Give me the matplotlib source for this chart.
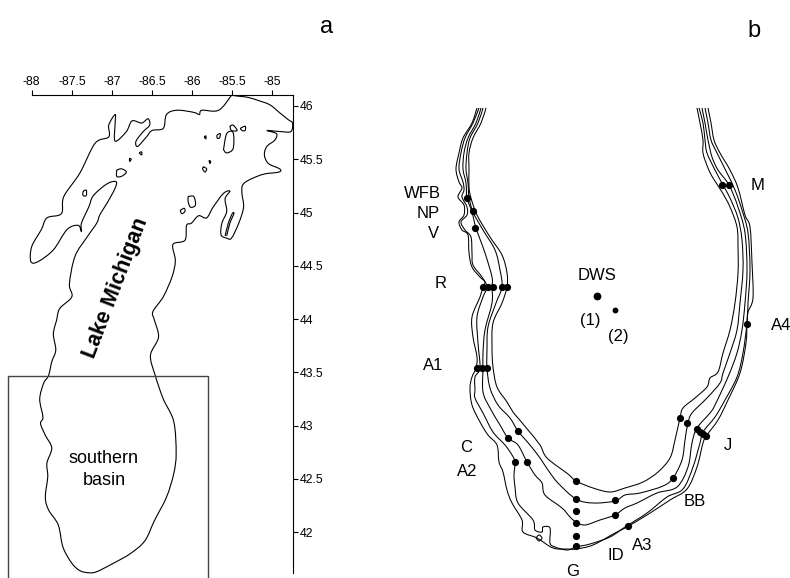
import matplotlib
matplotlib.use('Agg')
import matplotlib.pyplot as plt
from matplotlib.patches import Rectangle, PathPatch
from matplotlib.path import Path

plt.rcParams['font.family'] = ['Liberation Sans', 'DejaVu Sans']

LON_TICKS = [-88, -87.5, -87, -86.5, -86, -85.5, -85]
LON_LABELS = ['-88', '-87.5', '-87', '-86.5', '-86', '-85.5', '-85']
LAT_TICKS = [46, 45.5, 45, 44.5, 44, 43.5, 43, 42.5, 42]
LAT_LABELS = ['46', '45.5', '45', '44.5', '44', '43.5', '43', '42.5', '42']

# lake shoreline, (lon, lat), clockwise from the top
SHORE = [
	(-85.51, 46.10), (-85.40, 46.09), (-85.30, 46.08), (-85.17, 46.05), (-85.03, 46.01),
	(-84.90, 45.93), (-84.80, 45.87), (-84.75, 45.84), (-84.77, 45.76), (-84.90, 45.76),
	(-85.07, 45.77), (-84.95, 45.74), (-84.97, 45.68), (-85.07, 45.62), (-85.10, 45.54),
	(-85.05, 45.46), (-84.91, 45.41), (-84.92, 45.38), (-85.11, 45.36), (-85.28, 45.31),
	(-85.37, 45.26), (-85.38, 45.18), (-85.36, 45.05), (-85.42, 44.90), (-85.51, 44.76),
	(-85.57, 44.76), (-85.64, 44.79), (-85.63, 44.90), (-85.57, 45.01), (-85.59, 45.13),
	(-85.53, 45.20), (-85.61, 45.18), (-85.74, 45.05), (-85.82, 44.95), (-85.92, 44.97),
	(-86.01, 44.90), (-86.07, 44.88), (-86.09, 44.74), (-86.24, 44.70), (-86.21, 44.55),
	(-86.25, 44.40), (-86.36, 44.21), (-86.49, 44.07), (-86.47, 43.99), (-86.42, 43.83),
	(-86.52, 43.66), (-86.46, 43.47), (-86.36, 43.25), (-86.23, 43.04), (-86.20, 42.74),
	(-86.23, 42.55), (-86.32, 42.33), (-86.47, 42.11), (-86.59, 41.92), (-86.77, 41.80),
	(-86.98, 41.71), (-87.19, 41.63), (-87.29, 41.62), (-87.40, 41.64), (-87.50, 41.71),
	(-87.61, 41.86), (-87.67, 42.07), (-87.79, 42.21), (-87.83, 42.33), (-87.80, 42.52),
	(-87.81, 42.65), (-87.75, 42.79), (-87.83, 42.91), (-87.89, 43.02), (-87.86, 43.08),
	(-87.90, 43.25), (-87.85, 43.40), (-87.79, 43.47), (-87.75, 43.60), (-87.70, 43.71),
	(-87.73, 43.86), (-87.69, 43.99), (-87.65, 44.10), (-87.50, 44.21), (-87.53, 44.33),
	(-87.46, 44.59), (-87.31, 44.77), (-87.19, 44.90), (-87.15, 44.98), (-87.06, 45.09),
	(-86.96, 45.23), (-86.95, 45.29), (-87.06, 45.27), (-87.23, 45.16), (-87.29, 45.05),
	(-87.38, 44.90), (-87.38, 44.82), (-87.42, 44.88), (-87.56, 44.84), (-87.73, 44.65),
	(-87.92, 44.54), (-88.01, 44.54), (-88.00, 44.68), (-87.88, 44.84), (-87.81, 44.95),
	(-87.63, 44.99), (-87.60, 45.15), (-87.40, 45.37), (-87.21, 45.65), (-87.04, 45.71),
	(-87.04, 45.82), (-86.96, 45.92), (-86.96, 45.84), (-86.96, 45.67), (-86.82, 45.76),
	(-86.75, 45.86), (-86.63, 45.84), (-86.55, 45.88), (-86.53, 45.82), (-86.61, 45.76),
	(-86.70, 45.67), (-86.68, 45.62), (-86.57, 45.71), (-86.50, 45.77), (-86.36, 45.79),
	(-86.32, 45.92), (-86.19, 45.96), (-85.98, 45.94), (-85.91, 45.92), (-85.88, 45.96),
	(-85.67, 45.96), (-85.51, 46.10),
]

OLD_MISSION = [(-85.59, 44.78), (-85.55, 44.90), (-85.50, 44.99), (-85.48, 44.99), (-85.53, 44.90), (-85.57, 44.78)]

ISLANDS = [
	[(-85.61, 45.59), (-85.57, 45.74), (-85.49, 45.75), (-85.49, 45.60), (-85.57, 45.56), (-85.61, 45.59)],
	[(-85.53, 45.81), (-85.49, 45.82), (-85.44, 45.77), (-85.51, 45.77), (-85.53, 45.81)],
	[(-85.40, 45.79), (-85.34, 45.81), (-85.34, 45.77), (-85.38, 45.77), (-85.40, 45.79)],
	[(-85.69, 45.73), (-85.65, 45.74), (-85.66, 45.70), (-85.69, 45.70), (-85.69, 45.73)],
	[(-85.85, 45.71), (-85.83, 45.72), (-85.83, 45.69), (-85.85, 45.71)],
	[(-85.86, 45.43), (-85.82, 45.41), (-85.84, 45.38), (-85.87, 45.41), (-85.86, 45.43)],
	[(-85.79, 45.49), (-85.77, 45.48), (-85.78, 45.46), (-85.79, 45.49)],
	[(-86.94, 45.40), (-86.88, 45.41), (-86.82, 45.38), (-86.88, 45.34), (-86.94, 45.34), (-86.94, 45.40)],
	[(-86.78, 45.51), (-86.76, 45.50), (-86.78, 45.48), (-86.78, 45.51)],
	[(-86.66, 45.56), (-86.63, 45.57), (-86.63, 45.54), (-86.66, 45.56)],
	[(-87.36, 45.20), (-87.32, 45.21), (-87.32, 45.16), (-87.36, 45.16), (-87.36, 45.20)],
	[(-86.05, 45.15), (-85.98, 45.15), (-85.96, 45.07), (-86.02, 45.05), (-86.05, 45.10), (-86.05, 45.15)],
	[(-86.15, 45.02), (-86.10, 45.04), (-86.09, 45.01), (-86.13, 44.99), (-86.15, 45.02)],
]

BASIN_LON = [-88.30, -85.805]
BASIN_LAT = [41.5, 43.47]

# panel b is traced in the scan's own units, y grows downwards
CONTOUR_1 = [
	(477, 108), (472, 123), (463, 138), (459, 153), (456, 169), (459, 182), (462, 188), (458, 197),
	(464, 205), (464, 215), (459, 222), (462, 230), (468, 235), (469, 253), (472, 267), (480, 277),
	(485, 282), (483, 287), (480, 297), (472, 317), (473, 337), (477, 357), (476, 368), (472, 377),
	(470, 388), (472, 405), (480, 422), (488, 435), (497, 445), (499, 462), (503, 472), (507, 490),
	(512, 503), (522, 520), (523, 532), (537, 538), (553, 548), (567, 549), (576, 549), (593, 545),
	(615, 533), (625, 528), (647, 515), (670, 500), (687, 489), (697, 467), (703, 443), (707, 435),
	(718, 420), (728, 400), (740, 373), (746, 343), (747, 323), (748, 312), (753, 298), (752, 263),
	(750, 227), (745, 215), (738, 188), (730, 170), (720, 153), (714, 140), (711, 123), (708, 108),
]
CONTOUR_2 = [
	(479, 108), (473, 123), (465, 138), (461, 153), (459, 169), (463, 182), (464, 190), (462, 197),
	(467, 207), (467, 215), (461, 222), (465, 230), (471, 237), (472, 253), (473, 265), (482, 277),
	(487, 287), (483, 297), (477, 317), (478, 343), (480, 368), (475, 377), (475, 390), (475, 398),
	(483, 413), (493, 432), (505, 445), (512, 455), (515, 462), (514, 475), (515, 487), (518, 503),
	(533, 520), (535, 530), (542, 532), (543, 527), (550, 528), (550, 543), (555, 547), (567, 550),
	(576, 547), (590, 544), (610, 537), (625, 527), (647, 513), (667, 497), (683, 489), (693, 467),
	(700, 443), (703, 432), (715, 417), (725, 400), (737, 377), (743, 353), (747, 323), (748, 303),
	(750, 270), (748, 233), (742, 210), (735, 190), (727, 173), (717, 153), (711, 140), (708, 123),
	(705, 108),
]
CONTOUR_3 = [
	(481, 108), (476, 123), (468, 138), (464, 153), (463, 169), (466, 183), (467, 198), (472, 212),
	(476, 228), (485, 253), (492, 277), (492, 287), (492, 303), (485, 330), (483, 353), (483, 368),
	(483, 392), (490, 408), (500, 425), (508, 438), (518, 445), (527, 462), (535, 475), (542, 483),
	(545, 495), (562, 508), (570, 517), (576, 522), (585, 525), (600, 520), (615, 515), (625, 508),
	(637, 503), (657, 493), (677, 487), (688, 467), (692, 443), (697, 428), (710, 413), (715, 405),
	(728, 377), (737, 353), (742, 330), (745, 303), (747, 270), (745, 233), (738, 207), (729, 185),
	(718, 170), (712, 157), (708, 140), (705, 123), (702, 108),
]
CONTOUR_4 = [
	(483, 108), (478, 123), (470, 138), (467, 153), (466, 169), (468, 183), (469, 197), (473, 212),
	(483, 230), (495, 250), (500, 270), (502, 287), (496, 303), (488, 327), (487, 350), (487, 368),
	(490, 388), (498, 405), (510, 418), (518, 431), (530, 445), (540, 458), (548, 470), (558, 483),
	(576, 499), (593, 503), (615, 501), (625, 495), (640, 493), (663, 486), (673, 478), (682, 460),
	(685, 440), (688, 423), (692, 413), (707, 398), (720, 383), (723, 373), (730, 353), (737, 330),
	(740, 303), (743, 270), (742, 240), (738, 218), (730, 198), (723, 185), (715, 170), (707, 153),
	(705, 140), (703, 123), (699, 108),
]
CONTOUR_5 = [
	(486, 108), (481, 123), (473, 138), (469, 153), (469, 169), (469, 187), (471, 198), (477, 215),
	(490, 237), (502, 255), (507, 273), (507, 287), (502, 303), (493, 323), (492, 347), (493, 367),
	(497, 387), (507, 402), (513, 412), (518, 418), (528, 430), (540, 445), (547, 458), (568, 474),
	(576, 481), (593, 488), (610, 492), (625, 488), (643, 482), (658, 472), (670, 458), (675, 440),
	(680, 418), (683, 408), (695, 398), (707, 387), (710, 378), (718, 372), (723, 353), (730, 330),
	(735, 303), (738, 273), (738, 247), (737, 227), (730, 207), (722, 192), (713, 178), (708, 168),
	(703, 153), (703, 140), (700, 123), (697, 108),
]
LAGOON = [(536, 538), (539, 535), (542, 538), (539, 541), (536, 538)]

STATIONS = [
	(467, 198), (473, 211), (475, 228),
	(483, 287), (488, 287), (493, 287), (502, 287), (507, 287),
	(477, 368), (482, 368), (487, 368),
	(722, 185), (729, 185), (747, 324),
	(518, 431), (508, 438), (515, 462), (527, 462),
	(576, 481), (576, 499), (576, 511), (576, 523), (576, 536), (576, 546),
	(615, 500), (615, 515), (628, 526), (673, 478), (680, 418), (687, 423),
	(697, 429), (700, 432), (703, 434), (706, 436),
]
DWS_1 = (597, 296)
DWS_2 = (615, 310)

STATION_LABELS = [
	('WFB', 422, 194), ('NP', 428, 213), ('V', 433, 233), ('R', 441, 283), ('A1', 433, 365),
	('DWS', 597, 275), ('(1)', 590, 320), ('(2)', 618, 336), ('M', 758, 185),
	('C', 466, 447), ('A2', 467, 471), ('J', 728, 446), ('BB', 695, 502),
	('A3', 642, 545), ('ID', 616, 555), ('G', 573, 572),
]


def plot_line(ax, points, lw=0.8):
	# draws a curve through the traced points, the trace itself stays as read
	verts = [points[0]]
	codes = [Path.MOVETO]
	for i in range(len(points) - 1):
		p0 = points[max(i - 1, 0)]
		p1 = points[i]
		p2 = points[i + 1]
		p3 = points[min(i + 2, len(points) - 1)]
		verts.append((p1[0] + (p2[0] - p0[0]) / 6.0, p1[1] + (p2[1] - p0[1]) / 6.0))
		verts.append((p2[0] - (p3[0] - p1[0]) / 6.0, p2[1] - (p3[1] - p1[1]) / 6.0))
		verts.append(p2)
		codes += [Path.CURVE4, Path.CURVE4, Path.CURVE4]
	ax.add_patch(PathPatch(Path(verts, codes), fill=False, edgecolor='black', linewidth=lw, clip_on=False))


if __name__ == '__main__':

	fig = plt.figure(figsize=(7.9, 5.78), dpi=100)

	# panel a
	ax = fig.add_axes([31.7 / 790, 4.7 / 578, 261.6 / 790, 478.3 / 578])
	ax.set_xlim(-88, -84.74)
	ax.set_ylim(41.615, 46.103)
	plot_line(ax, SHORE)
	plot_line(ax, OLD_MISSION)
	for island in ISLANDS:
		plot_line(ax, island)
	ax.add_patch(Rectangle((BASIN_LON[0], BASIN_LAT[0]), BASIN_LON[1] - BASIN_LON[0], BASIN_LAT[1] - BASIN_LAT[0],
		fill=False, edgecolor='#444444', linewidth=1.0, clip_on=False))
	ax.spines['left'].set_visible(False)
	ax.spines['bottom'].set_visible(False)
	ax.xaxis.tick_top()
	ax.yaxis.tick_right()
	ax.set_xticks(LON_TICKS)
	ax.set_xticklabels(LON_LABELS)
	ax.set_yticks(LAT_TICKS)
	ax.set_yticklabels(LAT_LABELS)
	ax.tick_params(axis='both', direction='out', length=3.4, width=0.8, labelsize=8.8, pad=1.5)
	ax.text(-86.95, 44.29, 'Lake Michigan', rotation=69, rotation_mode='anchor', ha='center', va='center',
		fontsize=15.5, fontweight='bold')
	ax.text(-87.10, 42.69, 'southern', ha='center', va='center', fontsize=13)
	ax.text(-87.10, 42.49, 'basin', ha='center', va='center', fontsize=13)

	# panel b
	bx = fig.add_axes([0, 0, 1, 1])
	bx.set_xlim(0, 790)
	bx.set_ylim(578, 0)
	bx.axis('off')
	for contour in [CONTOUR_1, CONTOUR_2, CONTOUR_3, CONTOUR_4, CONTOUR_5, LAGOON]:
		plot_line(bx, contour, lw=0.75)
	sx, sy = zip(*STATIONS)
	bx.plot(sx, sy, 'o', color='black', markersize=5.2, markeredgewidth=0)
	bx.plot([DWS_1[0]], [DWS_1[1]], 'o', color='black', markersize=5.6, markeredgewidth=0)
	bx.plot([DWS_2[0]], [DWS_2[1]], 'o', color='black', markersize=4.2, markeredgewidth=0)
	for label, x, y in STATION_LABELS:
		bx.text(x, y, label, ha='center', va='center', fontsize=12)
	bx.text(771, 325, 'A4', ha='left', va='center', fontsize=12)

	bx.text(327, 27, 'a', ha='center', va='center', fontsize=17)
	bx.text(754, 31, 'b', ha='center', va='center', fontsize=17)

	plt.savefig('out.png', dpi=100)
